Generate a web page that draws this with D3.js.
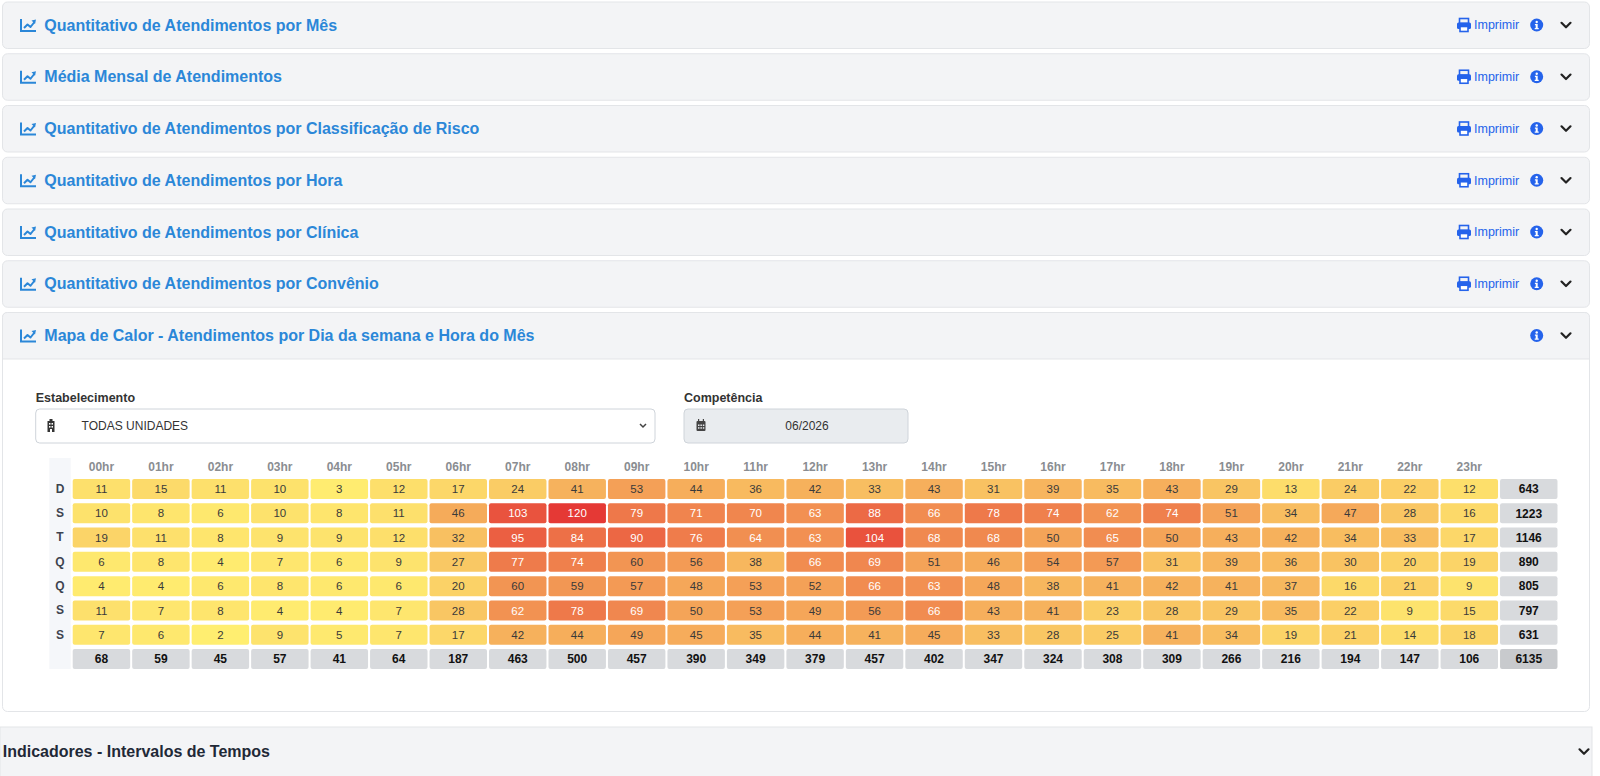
<!DOCTYPE html>
<html>
<head>
<meta charset="utf-8">
<script src="https://cdn.jsdelivr.net/npm/d3@7"></script>
<style>
  body { margin: 0; background: #fff; font-family: "Liberation Sans", Arial, sans-serif; }
  svg { display: block; }
</style>
</head>
<body>
<svg id="page" width="1600" height="776"></svg>
<script>
const panelTitles = [
  "Quantitativo de Atendimentos por Mês",
  "Média Mensal de Atendimentos",
  "Quantitativo de Atendimentos por Classificação de Risco",
  "Quantitativo de Atendimentos por Hora",
  "Quantitativo de Atendimentos por Clínica",
  "Quantitativo de Atendimentos por Convênio",
  "Mapa de Calor - Atendimentos por Dia da semana e Hora do Mês"
]
const printable = [true, true, true, true, true, true, false]
const footerTitle = "Indicadores - Intervalos de Tempos"

const days = ["D", "S", "T", "Q", "Q", "S", "S"]
const hours = ["00hr", "01hr", "02hr", "03hr", "04hr", "05hr", "06hr", "07hr", "08hr", "09hr", "10hr", "11hr",
  "12hr", "13hr", "14hr", "15hr", "16hr", "17hr", "18hr", "19hr", "20hr", "21hr", "22hr", "23hr"]
const counts = [
  [11, 15, 11, 10, 3, 12, 17, 24, 41, 53, 44, 36, 42, 33, 43, 31, 39, 35, 43, 29, 13, 24, 22, 12],
  [10, 8, 6, 10, 8, 11, 46, 103, 120, 79, 71, 70, 63, 88, 66, 78, 74, 62, 74, 51, 34, 47, 28, 16],
  [19, 11, 8, 9, 9, 12, 32, 95, 84, 90, 76, 64, 63, 104, 68, 68, 50, 65, 50, 43, 42, 34, 33, 17],
  [6, 8, 4, 7, 6, 9, 27, 77, 74, 60, 56, 38, 66, 69, 51, 46, 54, 57, 31, 39, 36, 30, 20, 19],
  [4, 4, 6, 8, 6, 6, 20, 60, 59, 57, 48, 53, 52, 66, 63, 48, 38, 41, 42, 41, 37, 16, 21, 9],
  [11, 7, 8, 4, 4, 7, 28, 62, 78, 69, 50, 53, 49, 56, 66, 43, 41, 23, 28, 29, 35, 22, 9, 15],
  [7, 6, 2, 9, 5, 7, 17, 42, 44, 49, 45, 35, 44, 41, 45, 33, 28, 25, 41, 34, 19, 21, 14, 18]
]
const rowTotals = [643, 1223, 1146, 890, 805, 797, 631]
const colTotals = [68, 59, 45, 57, 41, 64, 187, 463, 500, 457, 390, 349, 379, 457, 402, 347, 324, 308, 309, 266, 216, 194, 147, 106]
const grandTotal = 6135

const unitLabel = "Estabelecimento"
const unitName = "TODAS UNIDADES"
const periodLabel = "Competência"
const periodValue = "06/2026"

const svg = d3.select("#page")
const titleBlue = "#2b87d8"
const accent = "#2563eb"
const headerBg = "#f3f4f6"
const borderCol = "#e3e5e8"

function drawChartIcon(g) {
  g.append("path")
    .attr("d", "M0,-6 V6 H15")
    .attr("fill", "none").attr("stroke", titleBlue).attr("stroke-width", 2)
  g.append("path")
    .attr("d", "M3,3 L6.5,-0.5 L9.5,2 L13.5,-3")
    .attr("fill", "none").attr("stroke", titleBlue).attr("stroke-width", 2)
    .attr("stroke-linejoin", "round")
  g.append("path")
    .attr("d", "M10.5,-4.5 L15,-5.5 L14,-1 Z")
    .attr("fill", titleBlue)
}

function drawPrinter(g) {
  g.append("rect").attr("x", 2.5).attr("y", -6.5).attr("width", 9).attr("height", 5)
    .attr("fill", "none").attr("stroke", accent).attr("stroke-width", 1.6)
  g.append("rect").attr("x", 0).attr("y", -2.5).attr("width", 14).attr("height", 6.5).attr("rx", 1.5)
    .attr("fill", accent)
  g.append("rect").attr("x", 3).attr("y", 1.5).attr("width", 8).attr("height", 5)
    .attr("fill", "#fff").attr("stroke", accent).attr("stroke-width", 1.6)
}

function drawInfo(g) {
  g.append("circle").attr("r", 6.5).attr("fill", accent)
  g.append("circle").attr("cy", -3).attr("r", 1.2).attr("fill", "#fff")
  g.append("path").attr("d", "M-1.8,-1 H1 V3 H2 V4.3 H-2 V3 H-1 V0.3 H-1.8 Z").attr("fill", "#fff")
}

function drawChevron(g, color) {
  g.append("path").attr("d", "M-4.5,-2.2 L0,2.3 L4.5,-2.2")
    .attr("fill", "none").attr("stroke", color || "#222").attr("stroke-width", 2.2)
    .attr("stroke-linecap", "round").attr("stroke-linejoin", "round")
}

function topRounded(x, y, w, h, r) {
  return `M${x},${y + h} V${y + r} Q${x},${y} ${x + r},${y} H${x + w - r} Q${x + w},${y} ${x + w},${y + r} V${y + h} Z`
}

// accordion panels
const panelLeft = 2.5, panelRight = 1589.5, panelH = 46.5
const panelTop = i => 2 + i * 51.75

const body = svg.append("g")
body.append("rect")
  .attr("x", panelLeft).attr("y", panelTop(6))
  .attr("width", panelRight - panelLeft).attr("height", 711.5 - panelTop(6))
  .attr("rx", 5).attr("fill", "#fff").attr("stroke", borderCol)

const panels = svg.append("g").selectAll("g")
  .data(panelTitles)
  .enter().append("g")
  .attr("transform", (d, i) => `translate(0,${panelTop(i)})`)

panels.append("path")
  .attr("d", (d, i) => i === 6
    ? topRounded(panelLeft, 0, panelRight - panelLeft, panelH, 5)
    : null)
  .attr("fill", headerBg).attr("stroke", borderCol)
panels.filter((d, i) => i < 6).append("rect")
  .attr("x", panelLeft).attr("y", 0)
  .attr("width", panelRight - panelLeft).attr("height", panelH)
  .attr("rx", 5).attr("fill", headerBg).attr("stroke", borderCol)

panels.each(function(d, i) {
  const g = d3.select(this)
  drawChartIcon(g.append("g").attr("transform", "translate(21,23)"))
  g.append("text")
    .attr("x", 44.3).attr("y", 23).attr("dy", "0.35em")
    .attr("font-size", 16).attr("font-weight", "bold").attr("fill", titleBlue)
    .text(d)
  if (printable[i]) {
    drawPrinter(g.append("g").attr("transform", "translate(1457,23)"))
    g.append("text")
      .attr("x", 1474).attr("y", 23).attr("dy", "0.35em")
      .attr("font-size", 12.5).attr("fill", accent)
      .text("Imprimir")
  }
  drawInfo(g.append("g").attr("transform", "translate(1536.7,23)"))
  drawChevron(g.append("g").attr("transform", "translate(1566,23)"))
})

// filters
const form = svg.append("g")
form.append("text").attr("x", 35.7).attr("y", 398).attr("dy", "0.35em")
  .attr("font-size", 12.5).attr("font-weight", "bold").attr("fill", "#333").text(unitLabel)
form.append("rect").attr("x", 35.7).attr("y", 409).attr("width", 619.3).attr("height", 34)
  .attr("rx", 4).attr("fill", "#fff").attr("stroke", "#cfd4da")
const bld = form.append("g").attr("transform", "translate(51,426)")
bld.append("rect").attr("x", -3.5).attr("y", -5).attr("width", 7).attr("height", 11).attr("fill", "#333")
bld.append("rect").attr("x", -1.5).attr("y", -7).attr("width", 3).attr("height", 2).attr("fill", "#333")
bld.selectAll(".win").data([[-2, -3], [0.5, -3], [-2, 0], [0.5, 0]]).enter().append("rect")
  .attr("x", d => d[0]).attr("y", d => d[1]).attr("width", 1.5).attr("height", 1.6).attr("fill", "#fff")
bld.append("rect").attr("x", -1).attr("y", 3).attr("width", 2).attr("height", 3).attr("fill", "#fff")
form.append("text").attr("x", 81.6).attr("y", 426).attr("dy", "0.35em")
  .attr("font-size", 12).attr("fill", "#333").text(unitName)
form.append("path").attr("d", "M640,424 L643,427 L646,424")
  .attr("fill", "none").attr("stroke", "#444").attr("stroke-width", 1.5)

form.append("text").attr("x", 684).attr("y", 398).attr("dy", "0.35em")
  .attr("font-size", 12.5).attr("font-weight", "bold").attr("fill", "#333").text(periodLabel)
form.append("rect").attr("x", 684).attr("y", 409).attr("width", 224).attr("height", 34)
  .attr("rx", 4).attr("fill", "#e9ecef").attr("stroke", "#cfd4da")
const cal = form.append("g").attr("transform", "translate(701,426)")
cal.append("rect").attr("x", -4.5).attr("y", -5).attr("width", 9).attr("height", 10).attr("rx", 1).attr("fill", "#444")
cal.selectAll(".dot").data(d3.cross([-3, -0.6, 1.8], [-1.5, 1.2])).enter().append("rect")
  .attr("x", d => d[0]).attr("y", d => d[1]).attr("width", 1.5).attr("height", 1.5).attr("fill", "#e9ecef")
cal.append("rect").attr("x", -3).attr("y", -7).attr("width", 1.2).attr("height", 3).attr("fill", "#444")
cal.append("rect").attr("x", 1.8).attr("y", -7).attr("width", 1.2).attr("height", 3).attr("fill", "#444")
form.append("text").attr("x", 807).attr("y", 426).attr("dy", "0.35em").attr("text-anchor", "middle")
  .attr("font-size", 12).attr("fill", "#333").text(periodValue)

// heatmap
const colKeys = hours.concat(["total"])
const rowKeys = d3.range(days.length).concat(["total"])

const x = d3.scaleBand()
  .domain(colKeys)
  .range([71.7, 1558.5])
  .paddingInner(0.034).paddingOuter(0.017)

const y = d3.scaleBand()
  .domain(rowKeys)
  .range([476.9, 671.1])
  .paddingInner(0.176).paddingOuter(0.088)

const maxVal = d3.max(counts, r => d3.max(r))
const color = d3.scaleLinear()
  .domain(d3.extent(counts.flat()))
  .range(["#ffee70", "#e53935"])

const hm = svg.append("g")

hm.append("rect")
  .attr("x", 49.3).attr("y", 458).attr("width", 21.4).attr("height", 211)
  .attr("fill", "#f5f7fa")

const cells = []
counts.forEach((row, r) => row.forEach((v, c) => cells.push({ r, c: hours[c], v })))

hm.append("g").selectAll("rect")
  .data(cells)
  .enter().append("rect")
  .attr("x", d => x(d.c)).attr("y", d => y(d.r))
  .attr("width", x.bandwidth()).attr("height", y.bandwidth())
  .attr("rx", 2).attr("fill", d => color(d.v))

hm.append("g").selectAll("text")
  .data(cells)
  .enter().append("text")
  .attr("x", d => x(d.c) + x.bandwidth() / 2).attr("y", d => y(d.r) + y.bandwidth() / 2)
  .attr("dy", "0.36em").attr("text-anchor", "middle")
  .attr("font-size", 11.5)
  .attr("fill", d => d.v > maxVal / 2 ? "#fff" : "#3a3a3a")
  .text(d => d.v)

const totals = rowTotals.map((v, r) => ({ r, c: "total", v }))
  .concat(colTotals.map((v, c) => ({ r: "total", c: hours[c], v })))
  .concat([{ r: "total", c: "total", v: grandTotal }])

hm.append("g").selectAll("rect")
  .data(totals)
  .enter().append("rect")
  .attr("x", d => x(d.c)).attr("y", d => y(d.r))
  .attr("width", x.bandwidth()).attr("height", y.bandwidth())
  .attr("rx", 2).attr("fill", d => d.r === "total" && d.c === "total" ? "#c8cacd" : "#d8dadd")

hm.append("g").selectAll("text")
  .data(totals)
  .enter().append("text")
  .attr("x", d => x(d.c) + x.bandwidth() / 2).attr("y", d => y(d.r) + y.bandwidth() / 2)
  .attr("dy", "0.36em").attr("text-anchor", "middle")
  .attr("font-size", 12).attr("font-weight", "bold").attr("fill", "#111")
  .text(d => d.v)

// hour header
const xAxis = hm.append("g")
  .attr("transform", "translate(0,467)")
  .call(d3.axisTop(x).tickSize(0).tickPadding(0).tickFormat(d => d === "total" ? "" : d))
xAxis.select(".domain").remove()
xAxis.selectAll("text")
  .attr("dy", "0.35em").attr("y", 0)
  .attr("font-family", "'Liberation Sans', Arial, sans-serif")
  .attr("font-size", 12).attr("font-weight", "bold").attr("fill", "#8a8d91")

// day labels
const yAxis = hm.append("g")
  .attr("transform", "translate(60,0)")
  .call(d3.axisLeft(y).tickSize(0).tickPadding(0).tickFormat(d => d === "total" ? "" : days[d]))
yAxis.select(".domain").remove()
yAxis.selectAll("text")
  .attr("x", 0).attr("text-anchor", "middle")
  .attr("font-family", "'Liberation Sans', Arial, sans-serif")
  .attr("font-size", 12).attr("font-weight", "bold").attr("fill", "#3d4450")

// next section
const foot = svg.append("g").attr("transform", "translate(0,727)")
foot.append("rect").attr("x", 0).attr("y", 0).attr("width", 1592).attr("height", 60)
  .attr("fill", headerBg).attr("stroke", borderCol)
foot.append("text").attr("x", 2.7).attr("y", 24.5).attr("dy", "0.35em")
  .attr("font-size", 16).attr("font-weight", "bold").attr("fill", "#1f2937")
  .text(footerTitle)
drawChevron(foot.append("g").attr("transform", "translate(1584,24.5)"))
</script>
</body>
</html>
